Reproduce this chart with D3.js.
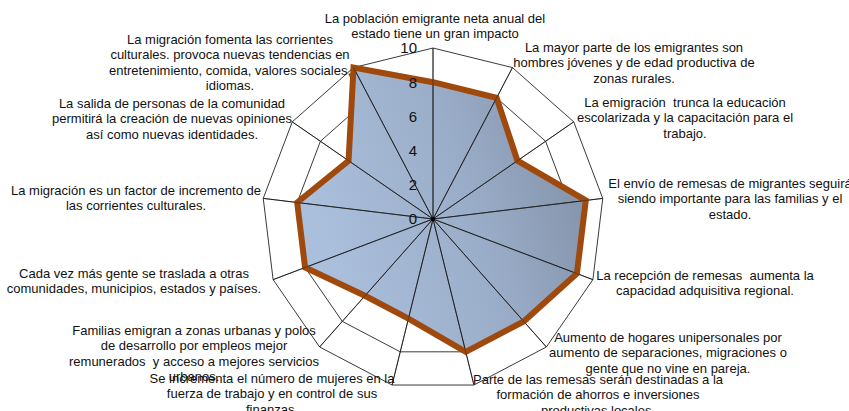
<!DOCTYPE html>
<html><head><meta charset="utf-8">
<script src="https://cdn.jsdelivr.net/npm/d3@7"></script>
<style>
html,body{margin:0;padding:0;background:#fff;}
svg{display:block;font-family:"Liberation Sans",Arial,sans-serif;}
text{white-space:pre;}
</style></head>
<body><svg id="c" width="849" height="411"></svg>
<script>
const categories = [
  ["La población emigrante neta anual del","estado tiene un gran impacto"],
  ["La mayor parte de los emigrantes son","hombres jóvenes y de edad productiva de","zonas rurales."],
  ["La emigración  trunca la educación","escolarizada y la capacitación para el","trabajo."],
  ["El envío de remesas de migrantes seguirá","siendo importante para las familias y el","estado."],
  ["La recepción de remesas  aumenta la","capacidad adquisitiva regional."],
  ["Aumento de hogares unipersonales por","aumento de separaciones, migraciones o","gente que no vine en pareja."],
  ["Parte de las remesas serán destinadas a la","formación de ahorros e inversiones","productivas locales."],
  ["Se incrementa el número de mujeres en la","fuerza de trabajo y en control de sus","finanzas."],
  ["Familias emigran a zonas urbanas y polos","de desarrollo por empleos mejor","remunerados  y acceso a mejores servicios","urbanos."],
  ["Cada vez más gente se traslada a otras","comunidades, municipios, estados y países."],
  ["La migración es un factor de incremento de","las corrientes culturales."],
  ["La salida de personas de la comunidad","permitirá la creación de nuevas opiniones","así como nuevas identidades."],
  ["La migración fomenta las corrientes","culturales. provoca nuevas tendencias en","entretenimiento, comida, valores sociales,","idiomas."]
];
const values = [8, 8, 6, 9, 9, 8, 8, 6, 6, 8, 8, 6, 10];
const ticks = [0, 2, 4, 6, 8, 10];

// label layout: centre x and first-line centre y
const labelPos = [
  [435, 18], [634, 47], [685, 102], [730, 183], [705, 275], [668, 337], [598, 379],
  [272, 378], [194, 330], [134, 273], [136, 190], [172, 103], [230, 39]
];

const cx = 433, cy = 219, R = 171;
const svg = d3.select("#c");
const n = categories.length;
const r = d3.scaleLinear().domain([0, 10]).range([0, R]);
const ang = d3.scaleLinear().domain([0, n]).range([0, 2 * Math.PI]);
const pt = (i, v) => [cx + r(v) * Math.sin(ang(i)), cy - r(v) * Math.cos(ang(i))];

const defs = svg.append("defs");
const grad = defs.append("linearGradient").attr("id", "fillg")
  .attr("x1", "0").attr("y1", "0.3").attr("x2", "1").attr("y2", "0");
grad.append("stop").attr("offset", "0").attr("stop-color", "#aabfdc");
grad.append("stop").attr("offset", "0.5").attr("stop-color", "#9aadc8");
grad.append("stop").attr("offset", "1").attr("stop-color", "#7d8ba2");

// rings
const line = d3.line().curve(d3.curveLinearClosed);
svg.append("g").selectAll("path").data(ticks.filter(t => t > 0)).join("path")
  .attr("d", t => line(d3.range(n).map(i => pt(i, t))))
  .attr("fill", "none").attr("stroke", "#3a3a3a").attr("stroke-width", 1);

// series fill
svg.append("path")
  .attr("d", line(values.map((v, i) => pt(i, v))))
  .attr("fill", "url(#fillg)").attr("stroke", "none");

// spokes
svg.append("g").selectAll("line").data(d3.range(n)).join("line")
  .attr("x1", cx).attr("y1", cy)
  .attr("x2", i => pt(i, 10)[0]).attr("y2", i => pt(i, 10)[1])
  .attr("stroke", "#222").attr("stroke-width", 1);

// series outline
svg.append("path")
  .attr("d", line(values.map((v, i) => pt(i, v))))
  .attr("fill", "none").attr("stroke", "#a0490c").attr("stroke-width", 6)
  .attr("stroke-linejoin", "miter");

// spokes on top (thin)
svg.append("g").selectAll("line").data(d3.range(n)).join("line")
  .attr("x1", cx).attr("y1", cy)
  .attr("x2", i => pt(i, 10)[0]).attr("y2", i => pt(i, 10)[1])
  .attr("stroke", "#222").attr("stroke-width", 0.8).attr("opacity", 0.6);

svg.append("circle").attr("cx", cx).attr("cy", cy).attr("r", 2.2).attr("fill", "#000");

// tick labels
svg.append("g").selectAll("text").data(ticks).join("text")
  .attr("x", cx - 16).attr("y", t => cy - r(t))
  .attr("dy", "0.36em").attr("text-anchor", "end")
  .attr("font-size", "15px").attr("fill", "#111").text(t => t);

// category labels
const lg = svg.append("g").attr("font-size", "13px").attr("fill", "#111");
categories.forEach((lines, i) => {
  const t = lg.append("text").attr("text-anchor", "middle");
  lines.forEach((s, j) => {
    t.append("tspan").attr("x", labelPos[i][0]).attr("y", labelPos[i][1] + j * 15.5)
      .attr("dy", "0.35em").text(s);
  });
});
</script></body></html>
